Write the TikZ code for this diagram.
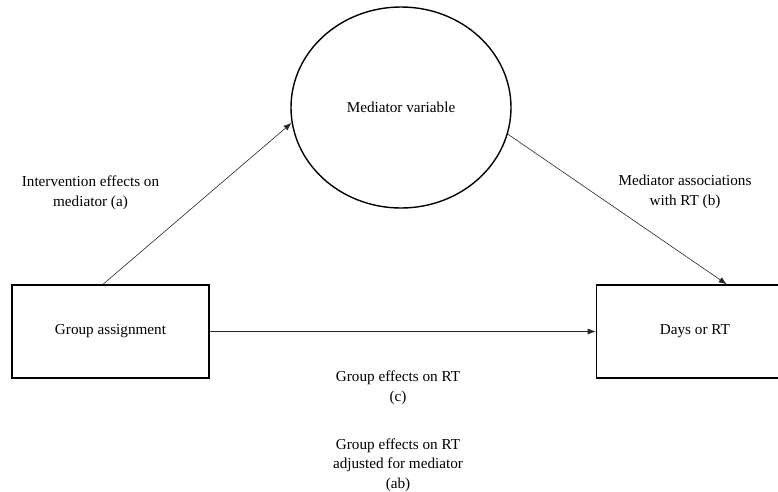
\documentclass[tikz,border=0pt]{standalone}
\usepackage{fontspec}
\setmainfont{Liberation Serif}
\usetikzlibrary{arrows.meta,positioning,shapes.geometric}

\begin{document}
\begin{tikzpicture}[x=1pt,y=-1pt,>={Latex[length=8pt,width=6pt]},
  font=\fontsize{15.2}{19.5}\selectfont,
  box/.style={draw=black,line width=1.4pt,minimum width=197pt,minimum height=93pt,inner sep=0pt},
  blob/.style={draw=black,ellipse,line width=1.4pt,minimum width=220pt,minimum height=201pt,inner sep=0pt},
  arr/.style={->,line width=.6pt,draw=black!85},
  lbl/.style={align=center,inner sep=0pt}]
\useasboundingbox (0,0) rectangle (778,491);
\node[box] (grp) at (110.5,331.5) {Group assignment};
\node[box, right=386pt of grp] (days) {Days or RT};
\node[blob] (med) at (401,107.5) {Mediator variable};
\draw[arr] (grp.99) -- (med.188);
\draw[arr] (med.-14) -- (days.56);
\draw[arr] (grp.east) -- (days.west);
\node[lbl] (la) at (90.5,193) {Intervention effects on\\mediator (a)};
\node[lbl] (lb) at (685,192) {Mediator associations\\with RT\ (b)};
\node[lbl] (lc) at (398,388) {Group effects on RT\\(c)};
\node[lbl] (lab) at (398,465) {Group effects on RT\\adjusted for mediator\\(ab)};
\end{tikzpicture}
\end{document}
